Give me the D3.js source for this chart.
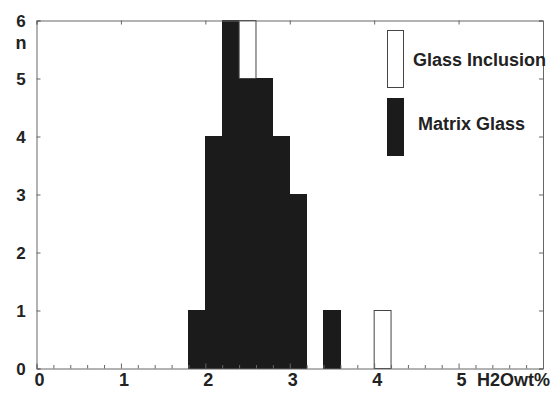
<!DOCTYPE html>
<html>
<head>
<meta charset="utf-8">
<script src="https://cdn.jsdelivr.net/npm/d3@7"></script>
<style>
  body { margin: 0; background: #fff; }
  svg text { font-family: "Liberation Sans", Arial, sans-serif; font-weight: bold; fill: #222; }
</style>
</head>
<body>
<div id="chart"></div>
<script>
// histogram bins of H2O wt%, each 0.2 wide
var binStarts = [1.8, 2.0, 2.2, 2.4, 2.6, 2.8, 3.0, 3.2, 3.4, 3.6, 3.8, 4.0];
var matrixGlass = [1, 4, 6, 5, 5, 4, 3, 0, 1, 0, 0, 0];
var glassInclusion = [0, 0, 0, 1, 0, 0, 0, 0, 0, 0, 0, 1];
var binWidth = 0.2;

var xTickLabels = [0, 1, 2, 3, 4, 5];
var yTickLabels = [0, 1, 2, 3, 4, 5, 6];
var seriesNames = ["Matrix Glass", "Glass Inclusion"];

var width = 555;
var height = 393;
var margin = { top: 20.5, right: 12, bottom: 24.5, left: 36.5 };

var svg = d3.select("#chart")
  .append("svg")
  .attr("width", width)
  .attr("height", height);

var xScale = d3.scaleLinear()
  .domain([0, 6])
  .range([margin.left, width - margin.right]);

var yScale = d3.scaleLinear()
  .domain([0, 6])
  .range([height - margin.bottom, margin.top]);

// build rows for d3.stack (matrix glass at the bottom, inclusions on top)
var rows = binStarts.map((b, i) => ({ x0: b, "Matrix Glass": matrixGlass[i], "Glass Inclusion": glassInclusion[i] }));
var stacked = d3.stack().keys(seriesNames)(rows);

var fills = { "Matrix Glass": "#1b1b1b", "Glass Inclusion": "#fff" };
var strokes = { "Matrix Glass": "#1b1b1b", "Glass Inclusion": "#444" };

stacked.forEach(layer => {
  var solid = layer.key == "Matrix Glass";
  svg.append("g")
    .attr("shape-rendering", solid ? "crispEdges" : "auto")
    .selectAll("rect")
    .data(layer.filter(d => d[1] > d[0]))
    .enter()
    .append("rect")
    .attr("x", d => xScale(d.data.x0))
    .attr("y", d => yScale(d[1]))
    .attr("width", d => xScale(d.data.x0 + binWidth) - xScale(d.data.x0))
    .attr("height", d => yScale(d[0]) - yScale(d[1]))
    .attr("fill", fills[layer.key])
    .attr("stroke", strokes[layer.key])
    .attr("stroke-width", solid ? 1 : 1);
});

var axisColor = "#666";

// bottom axis: minor ticks every 0.2 pointing up
var minorTicks = d3.range(0, 31).map(i => i * 0.2);
var bottom = svg.append("g")
  .attr("transform", "translate(0," + yScale(0) + ")")
  .call(d3.axisTop(xScale).tickValues(minorTicks).tickSize(4).tickFormat(""));
bottom.selectAll(".tick line").attr("y2", d => Math.abs(d - Math.round(d)) < 1e-6 ? -5 : -3.5);

// top axis: major ticks pointing down
svg.append("g")
  .attr("transform", "translate(0," + yScale(6) + ")")
  .call(d3.axisBottom(xScale).tickValues(xTickLabels).tickSize(4).tickFormat(""));

// left / right axes
svg.append("g")
  .attr("transform", "translate(" + xScale(0) + ",0)")
  .call(d3.axisRight(yScale).tickValues(yTickLabels).tickSize(4).tickFormat(""));
svg.append("g")
  .attr("transform", "translate(" + xScale(6) + ",0)")
  .call(d3.axisLeft(yScale).tickValues(yTickLabels).tickSize(4).tickFormat(""));

svg.selectAll(".domain").attr("stroke", axisColor);
svg.selectAll(".tick line").attr("stroke", axisColor);

// tick labels
svg.append("g")
  .selectAll("text")
  .data(xTickLabels)
  .enter()
  .append("text")
  .attr("x", d => xScale(d) + 3)
  .attr("y", 386)
  .attr("text-anchor", "middle")
  .style("font-size", "18px")
  .text(d => d);

svg.append("g")
  .selectAll("text")
  .data(yTickLabels)
  .enter()
  .append("text")
  .attr("x", 21)
  .attr("y", d => yScale(d))
  .attr("dy", "0.36em")
  .attr("text-anchor", "middle")
  .style("font-size", "17px")
  .text(d => d);

svg.append("text")
  .attr("x", 477)
  .attr("y", 386)
  .style("font-size", "18px")
  .text("H2Owt%");

svg.append("text")
  .attr("x", 21)
  .attr("y", 49)
  .attr("text-anchor", "middle")
  .style("font-size", "18px")
  .text("n");

// legend
var legend = [
  { name: "Glass Inclusion", y: 30, tx: 413, ty: 66 },
  { name: "Matrix Glass", y: 98, tx: 418, ty: 130 }
];
legend.forEach(l => {
  svg.append("rect")
    .attr("x", 387.5)
    .attr("y", l.y + 0.5)
    .attr("width", 16)
    .attr("height", 57)
    .attr("fill", fills[l.name])
    .attr("stroke", strokes[l.name]);
  svg.append("text")
    .attr("x", l.tx)
    .attr("y", l.ty)
    .style("font-size", "18px")
    .text(l.name);
});
</script>
</body>
</html>
